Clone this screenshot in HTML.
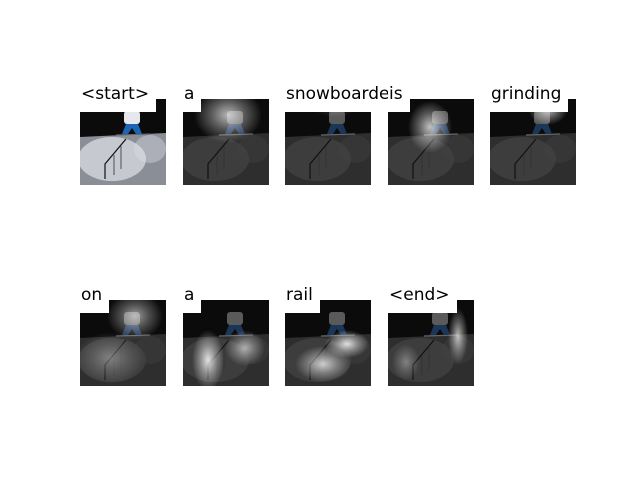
<!DOCTYPE html>
<html><head><meta charset="utf-8"><style>
body{margin:0;background:#fff;}
#wrap{position:relative;width:640px;height:480px;overflow:hidden;font-family:"DejaVu Sans","Liberation Sans",sans-serif;}
.panel{position:absolute;width:86px;height:86px;}
.lbl{position:absolute;background:#fff;font-size:17px;line-height:17px;padding:2px 7px 9px 1px;color:#000;white-space:nowrap;}
</style></head><body>
<div id="wrap"></div>
<script>
const words=["<start>","a","snowboarder","is","grinding","on","a","rail","<end>"];
const colX=[80,183,285,388,490];
const rowY=[99,300];
// attention blobs: [cx,cy,rx,ry,opacity] in panel units (0-86)
const blobs=[
 [],
 [[45,16,34,28,0.7]],
 [[50,4,26,14,0.3]],
 [[42,28,22,26,0.75]],
 [[58,10,20,16,0.75]],
 [[55,16,28,24,0.6],[30,58,34,26,0.35]],
 [[25,60,16,30,0.85],[62,48,20,18,0.6]],
 [[38,64,28,18,0.75],[62,44,22,14,0.85]],
 [[70,36,10,28,0.7],[18,62,14,18,0.35]]
];
const wrap=document.getElementById('wrap');
function scene(start){
  const bg='#0b0b0b';
  const ground=start?'#8a8e96':'#2e2e2e';
  const ground2=start?'#dfe2e8':'#444';
  return `<rect width="86" height="86" fill="${bg}"/>
  <polygon points="0,38 86,34 86,86 0,86" fill="${ground}"/>
  <ellipse cx="32" cy="60" rx="34" ry="22" fill="${ground2}" opacity="0.7"/>
  <ellipse cx="70" cy="50" rx="16" ry="14" fill="${ground2}" opacity="0.4"/>
  <line x1="36" y1="36" x2="70" y2="35" stroke="#666" stroke-width="1.2"/>
  <polyline points="25,80 25,65 46,40" fill="none" stroke="#111" stroke-width="1.2"/>
  <line x1="34" y1="56" x2="34" y2="76" stroke="#333" stroke-width="0.8"/>
  <line x1="41" y1="47" x2="41" y2="70" stroke="#333" stroke-width="0.8"/>
  <rect x="44" y="12" width="16" height="13" rx="3" fill="${start?'#e6e8ee':'#5a5a5a'}"/>
  <polygon points="46,25 58,25 62,35 56,35 52,29 48,35 42,35" fill="${start?'#1e64b4':'#1c3658'}"/>`;
}
words.forEach((w,i)=>{
  const r=i<5?0:1,c=i%5;
  const p=document.createElement('div');
  p.className='panel';
  
  
  p.style.left=colX[c]+'px';p.style.top=rowY[r]+'px';
  let defs='',blob='';
  blobs[i].forEach((b,j)=>{
    const id='g'+i+'_'+j;
    defs+=`<radialGradient id="${id}"><stop offset="0" stop-color="#fff" stop-opacity="${b[4]}"/><stop offset="0.5" stop-color="#fff" stop-opacity="${b[4]*0.45}"/><stop offset="1" stop-color="#fff" stop-opacity="0"/></radialGradient>`;
    blob+=`<ellipse cx="${b[0]}" cy="${b[1]}" rx="${b[2]}" ry="${b[3]}" fill="url(#${id})"/>`;
  });
  p.innerHTML=`<svg width="86" height="86" viewBox="0 0 86 86"><defs>${defs}</defs>${scene(i===0)}${blob}</svg>`;
  wrap.appendChild(p);
  const l=document.createElement('div');
  l.className='lbl';
  
  
  l.textContent=w;
  l.style.left=colX[c]+'px';l.style.top=(rowY[r]-15)+'px';
  if(w==='snowboarder'){l.style.width='102px';l.style.overflow='hidden';l.style.paddingRight='0';}
  wrap.appendChild(l);
});
</script>
</body></html>
